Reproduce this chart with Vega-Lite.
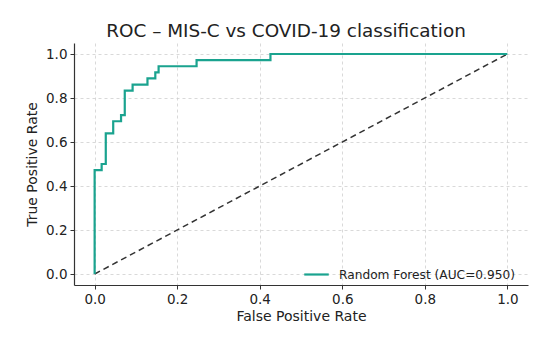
{
  "$schema": "https://vega.github.io/schema/vega-lite/v6.json",
  "autosize": "none",
  "width": 454,
  "height": 242,
  "padding": {"left": 74, "top": 43, "right": 22, "bottom": 55},
  "background": "white",
  "title": {
    "text": "ROC – MIS-C vs COVID-19 classification",
    "font": "DejaVu Sans",
    "fontSize": 18.4,
    "fontWeight": "normal",
    "color": "#222222",
    "anchor": "middle",
    "dx": -15,
    "offset": 3
  },
  "config": {
    "view": {"stroke": null},
    "font": "DejaVu Sans",
    "axis": {
      "labelFont": "DejaVu Sans",
      "titleFont": "DejaVu Sans",
      "labelFontSize": 13.5,
      "titleFontSize": 14,
      "titleFontWeight": "normal",
      "labelColor": "#222222",
      "titleColor": "#222222",
      "domainColor": "#333333",
      "domainWidth": 1.2,
      "tickColor": "#333333",
      "tickSize": 4,
      "labelPadding": 3,
      "gridColor": "#cfcfcf",
      "gridDash": [3, 3],
      "gridWidth": 0.8
    }
  },
  "datasets": {
    "roc": [
      {"i": 0, "fpr": 0, "tpr": 0},
      {"i": 1, "fpr": 0, "tpr": 0.4722},
      {"i": 2, "fpr": 0.017, "tpr": 0.4722},
      {"i": 3, "fpr": 0.017, "tpr": 0.5},
      {"i": 4, "fpr": 0.027, "tpr": 0.5},
      {"i": 5, "fpr": 0.027, "tpr": 0.6389},
      {"i": 6, "fpr": 0.045, "tpr": 0.6389},
      {"i": 7, "fpr": 0.045, "tpr": 0.6944},
      {"i": 8, "fpr": 0.064, "tpr": 0.6944},
      {"i": 9, "fpr": 0.064, "tpr": 0.7222},
      {"i": 10, "fpr": 0.073, "tpr": 0.7222},
      {"i": 11, "fpr": 0.073, "tpr": 0.8333},
      {"i": 12, "fpr": 0.092, "tpr": 0.8333},
      {"i": 13, "fpr": 0.092, "tpr": 0.8611},
      {"i": 14, "fpr": 0.128, "tpr": 0.8611},
      {"i": 15, "fpr": 0.128, "tpr": 0.8889},
      {"i": 16, "fpr": 0.147, "tpr": 0.8889},
      {"i": 17, "fpr": 0.147, "tpr": 0.9167},
      {"i": 18, "fpr": 0.155, "tpr": 0.9167},
      {"i": 19, "fpr": 0.155, "tpr": 0.9444},
      {"i": 20, "fpr": 0.247, "tpr": 0.9444},
      {"i": 21, "fpr": 0.247, "tpr": 0.9722},
      {"i": 22, "fpr": 0.426, "tpr": 0.9722},
      {"i": 23, "fpr": 0.426, "tpr": 1},
      {"i": 24, "fpr": 1, "tpr": 1}
    ],
    "diag": [
      {"i": 0, "fpr": 0, "tpr": 0},
      {"i": 1, "fpr": 1, "tpr": 1}
    ]
  },
  "layer": [
    {
      "data": {"name": "diag"},
      "mark": {"type": "line", "color": "#333333", "strokeWidth": 1.5, "strokeDash": [6, 4]},
      "encoding": {
        "x": {
          "field": "fpr", "type": "quantitative",
          "scale": {"domain": [-0.05, 1.05], "nice": false, "zero": false},
          "axis": {"values": [0, 0.2, 0.4, 0.6, 0.8, 1.0], "format": ".1f", "title": "False Positive Rate", "titlePadding": 4}
        },
        "y": {
          "field": "tpr", "type": "quantitative",
          "scale": {"domain": [-0.05, 1.05], "nice": false, "zero": false},
          "axis": {"values": [0, 0.2, 0.4, 0.6, 0.8, 1.0], "format": ".1f", "title": "True Positive Rate", "titlePadding": 6}
        },
        "order": {"field": "i"}
      }
    },
    {
      "data": {"name": "roc"},
      "mark": {"type": "line", "strokeWidth": 2.2},
      "encoding": {
        "x": {"field": "fpr", "type": "quantitative"},
        "y": {"field": "tpr", "type": "quantitative"},
        "order": {"field": "i"},
        "color": {
          "datum": "Random Forest (AUC=0.950)",
          "scale": {"range": ["#1aa38f"]},
          "legend": {
            "title": null,
            "orient": "none",
            "legendX": 229,
            "legendY": 218,
            "symbolType": "stroke",
            "symbolSize": 600,
            "symbolStrokeWidth": 2.2,
            "labelFontSize": 12.2,
            "labelFont": "DejaVu Sans",
            "labelColor": "#222222",
            "labelOffset": 9,
            "labelLimit": 300
          }
        }
      }
    }
  ]
}
